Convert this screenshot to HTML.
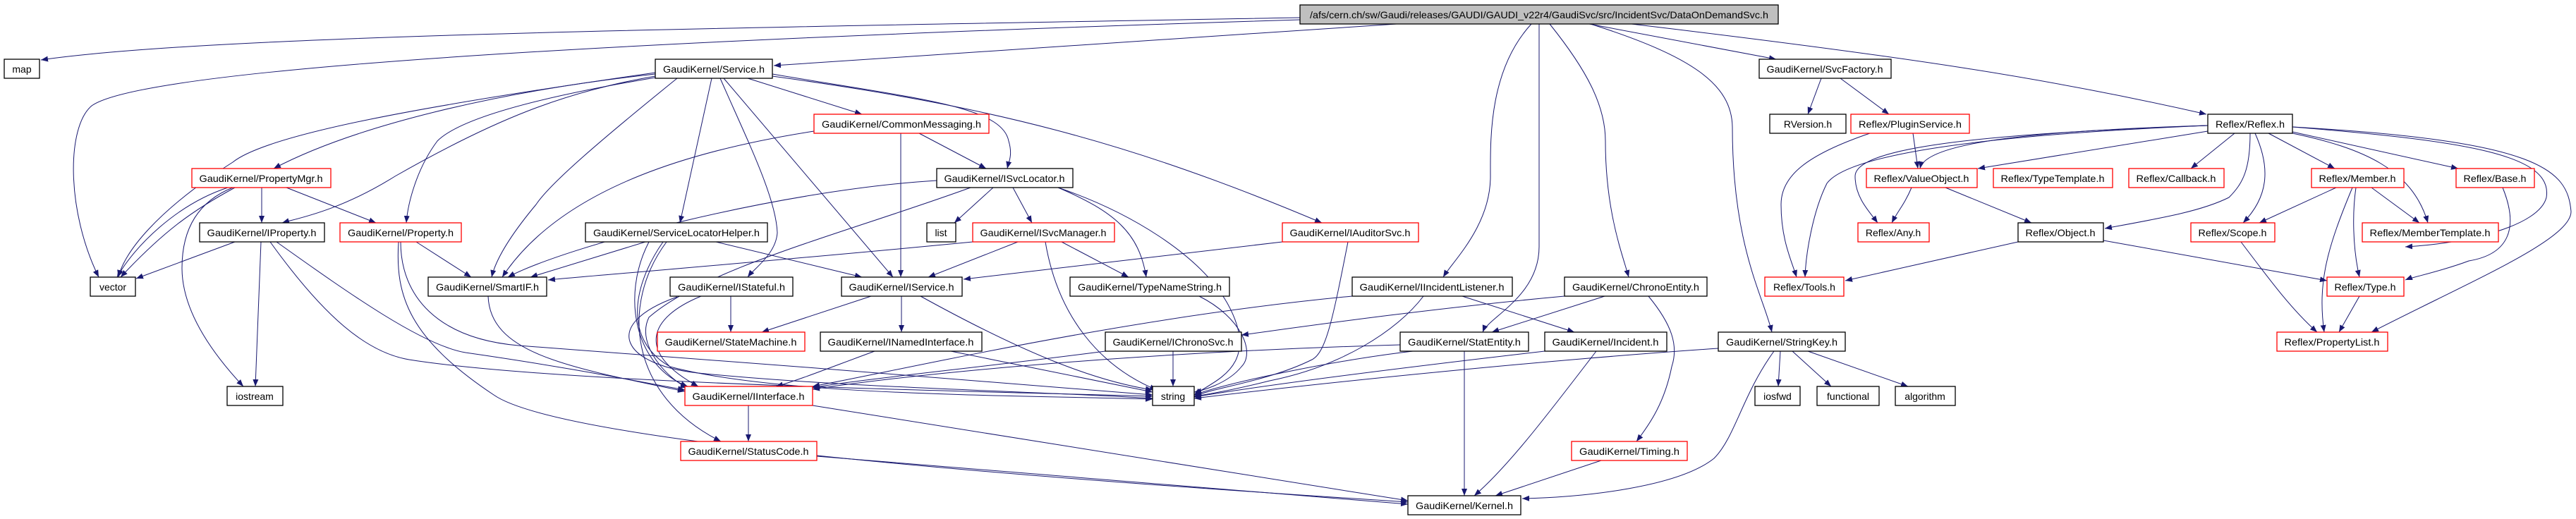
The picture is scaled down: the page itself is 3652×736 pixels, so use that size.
<!DOCTYPE html>
<html><head><meta charset="utf-8"><style>
html,body{margin:0;padding:0;background:#fff;}
svg{display:block;}
text{font-family:"Liberation Sans",sans-serif;font-size:14px;fill:#000;text-anchor:middle;}
.n{fill:#fff;stroke:#000;stroke-width:1.3;}
.r{fill:#fff;stroke:#ff0000;stroke-width:1.3;}
.t{fill:#bfbfbf;stroke:#000;stroke-width:1.3;}
path.e{fill:none;stroke:#191970;stroke-width:1;marker-end:url(#a);}
</style></head><body>
<svg width="3652" height="736" viewBox="0 0 3652 736" xmlns="http://www.w3.org/2000/svg">
<defs><marker id="a" markerUnits="userSpaceOnUse" markerWidth="11" markerHeight="8" refX="10" refY="4" orient="auto"><path d="M0,0 L10,4 L0,8 z" fill="#191970"/></marker></defs>
<g>
<path class="e" d="M1843,25 C1000,40 300,50 58,85"/>
<path class="e" d="M1843,28 C800,60 200,100 130,150 C94,180 94,300 140,393"/>
<path class="e" d="M1980,34 C1600,60 1300,80 1097,93"/>
<path class="e" d="M2171,34 C2110,100 2113,200 2113,250 C2113,320 2060,370 2046,393"/>
<path class="e" d="M2182,34 L2182,350 C2182,420 2110,450 2102,471"/>
<path class="e" d="M2197,34 C2250,100 2276,150 2276,200 C2276,300 2300,360 2309,393"/>
<path class="e" d="M2255,34 C2400,80 2455,120 2456,180 C2456,350 2500,420 2512,471"/>
<path class="e" d="M2253,34 L2518,84"/>
<path class="e" d="M2313,34 C2700,80 2900,110 3128,162"/>
<path class="e" d="M929,105 C700,130 500,180 388,239"/>
<path class="e" d="M929,108 C800,130 700,170 560,250 C480,300 420,310 400,316"/>
<path class="e" d="M929,110 C750,140 650,170 620,200 C590,240 578,290 576,316"/>
<path class="e" d="M929,103 C600,150 380,190 330,230 C220,300 175,360 168,393"/>
<path class="e" d="M960,111 C850,200 780,260 760,290 C710,350 700,380 697,393"/>
<path class="e" d="M1060,111 L1222,162"/>
<path class="e" d="M1095,105 C1300,140 1420,150 1430,200 C1436,220 1430,230 1428,239"/>
<path class="e" d="M1009,111 L964,316"/>
<path class="e" d="M1021,111 C1060,200 1100,280 1102,330 C1100,360 1070,380 1060,393"/>
<path class="e" d="M1026,111 L1266,393"/>
<path class="e" d="M1095,108 C1400,150 1600,200 1874,316"/>
<path class="e" d="M371,266 L371,316"/>
<path class="e" d="M406,266 L533,316"/>
<path class="e" d="M323,266 C250,290 190,350 166,393"/>
<path class="e" d="M333,266 C270,300 230,330 171,393"/>
<path class="e" d="M330,266 C270,290 258,340 258,380 C258,440 300,500 345,548"/>
<path class="e" d="M333,343 L193,395"/>
<path class="e" d="M370,343 L362,548"/>
<path class="e" d="M383,343 C460,450 520,500 580,510 C800,545 1400,555 1634,562"/>
<path class="e" d="M392,343 C500,420 600,490 660,500 C800,520 900,540 971,553"/>
<path class="e" d="M590,343 L668,393"/>
<path class="e" d="M568,343 C568,420 620,480 735,490 C1000,510 1400,540 1634,560"/>
<path class="e" d="M565,343 C560,420 580,480 700,560 C800,630 1500,680 1996,712"/>
<path class="e" d="M692,420 C695,500 800,520 971,555"/>
<path class="e" d="M1303,189 L1398,239"/>
<path class="e" d="M1277,189 L1277,393"/>
<path class="e" d="M1154,186 C1000,210 800,260 712,393"/>
<path class="e" d="M1408,266 L1353,316"/>
<path class="e" d="M1436,266 L1463,316"/>
<path class="e" d="M1500,266 C1580,300 1615,330 1625,393"/>
<path class="e" d="M1500,266 C1600,300 1700,360 1740,430 C1790,520 1720,540 1693,560"/>
<path class="e" d="M1328,256 C1100,270 800,350 720,393"/>
<path class="e" d="M1376,266 C1200,330 1000,380 920,450 C900,490 950,540 975,550"/>
<path class="e" d="M915,343 L752,393"/>
<path class="e" d="M1015,343 L1222,393"/>
<path class="e" d="M940,343 C900,400 880,480 950,520 C1100,560 1400,560 1634,566"/>
<path class="e" d="M920,343 C880,420 900,520 975,548"/>
<path class="e" d="M945,343 C880,430 890,560 1022,626"/>
<path class="e" d="M1443,343 L1316,393"/>
<path class="e" d="M1505,343 L1600,393"/>
<path class="e" d="M1482,343 C1500,450 1560,520 1640,553"/>
<path class="e" d="M1379,343 C1100,370 850,390 777,397"/>
<path class="e" d="M1818,343 L1366,396"/>
<path class="e" d="M1911,343 C1890,450 1880,500 1860,510 C1800,540 1720,550 1693,562"/>
<path class="e" d="M1036,420 L1036,471"/>
<path class="e" d="M994,420 C920,450 900,500 990,548"/>
<path class="e" d="M960,421 C850,460 880,520 1000,530 C1200,550 1500,556 1634,565"/>
<path class="e" d="M1235,420 L1080,471"/>
<path class="e" d="M1278,420 L1278,471"/>
<path class="e" d="M1305,420 C1450,500 1550,540 1634,553"/>
<path class="e" d="M1240,498 C1180,520 1130,540 1100,548"/>
<path class="e" d="M1348,498 L1634,556"/>
<path class="e" d="M1700,420 C1760,450 1780,500 1760,520 C1740,545 1700,555 1693,556"/>
<path class="e" d="M1663,498 L1663,548"/>
<path class="e" d="M1567,498 C1400,520 1200,540 1152,550"/>
<path class="e" d="M1061,575 L1061,626"/>
<path class="e" d="M1152,575 L1996,710"/>
<path class="e" d="M1158,647 L1996,715"/>
<path class="e" d="M1917,420 C1600,450 1300,520 1152,548"/>
<path class="e" d="M2018,420 C1980,470 1900,520 1800,540 C1760,550 1720,558 1693,562"/>
<path class="e" d="M2073,420 L2232,471"/>
<path class="e" d="M2218,420 C2000,440 1800,470 1760,475"/>
<path class="e" d="M2275,420 L2115,471"/>
<path class="e" d="M2337,420 C2370,460 2380,490 2370,520 C2360,570 2340,600 2320,626"/>
<path class="e" d="M2076,498 L2076,703"/>
<path class="e" d="M1985,489 C1600,500 1300,530 1152,552"/>
<path class="e" d="M2003,498 C1900,510 1750,540 1693,560"/>
<path class="e" d="M2263,498 C2200,580 2140,660 2090,703"/>
<path class="e" d="M2190,498 C2000,520 1800,545 1693,563"/>
<path class="e" d="M2436,494 C2200,510 1900,540 1693,565"/>
<path class="e" d="M2524,498 L2521,548"/>
<path class="e" d="M2541,498 L2596,548"/>
<path class="e" d="M2563,498 L2705,548"/>
<path class="e" d="M2515,498 C2470,560 2460,620 2430,650 C2380,690 2250,705 2158,707"/>
<path class="e" d="M2270,653 L2120,703"/>
<path class="e" d="M2582,111 L2563,162"/>
<path class="e" d="M2609,111 L2678,162"/>
<path class="e" d="M2651,189 C2560,220 2525,250 2525,290 C2525,340 2540,370 2547,393"/>
<path class="e" d="M2712,189 L2719,239"/>
<path class="e" d="M3130,178 C2900,185 2730,200 2722,239"/>
<path class="e" d="M3130,178 C2800,190 2630,210 2630,250 C2630,280 2650,300 2662,316"/>
<path class="e" d="M3130,178 C2800,192 2620,220 2590,260 C2570,300 2560,360 2559,393"/>
<path class="e" d="M3130,186 L2804,239"/>
<path class="e" d="M3168,189 L3106,239"/>
<path class="e" d="M3190,189 C3190,240 3180,260 3160,280 C3120,300 3060,310 2984,324"/>
<path class="e" d="M3197,189 C3220,240 3215,280 3180,316"/>
<path class="e" d="M3216,189 L3310,239"/>
<path class="e" d="M3250,189 C3350,210 3420,240 3442,316"/>
<path class="e" d="M3250,187 L3485,239"/>
<path class="e" d="M3250,180 C3500,200 3620,220 3610,280 C3600,320 3500,345 3410,350"/>
<path class="e" d="M3250,180 C3600,200 3640,240 3645,300 C3645,340 3500,400 3362,471"/>
<path class="e" d="M2710,266 C2700,290 2690,300 2682,316"/>
<path class="e" d="M2758,266 L2880,316"/>
<path class="e" d="M2861,343 L2616,398"/>
<path class="e" d="M2982,341 L3299,398"/>
<path class="e" d="M3312,266 L3203,316"/>
<path class="e" d="M3362,266 L3430,316"/>
<path class="e" d="M3340,266 C3335,300 3335,350 3345,393"/>
<path class="e" d="M3335,266 C3300,350 3285,400 3295,471"/>
<path class="e" d="M3548,266 C3570,320 3560,360 3500,370 C3460,385 3420,393 3410,397"/>
<path class="e" d="M3177,343 C3220,400 3250,440 3285,471"/>
<path class="e" d="M3345,420 L3316,471"/>
</g>
<g>
<rect class="t" x="1843" y="7" width="678" height="27"/><text x="2182" y="26" textLength="650" lengthAdjust="spacingAndGlyphs">/afs/cern.ch/sw/Gaudi/releases/GAUDI/GAUDI_v22r4/GaudiSvc/src/IncidentSvc/DataOnDemandSvc.h</text>
<rect class="n" x="6" y="84" width="50" height="27"/><text x="31" y="103">map</text>
<rect class="n" x="128" y="393" width="64" height="27"/><text x="160" y="412">vector</text>
<rect class="n" x="929" y="84" width="166" height="27"/><text x="1012" y="103" textLength="144" lengthAdjust="spacingAndGlyphs">GaudiKernel/Service.h</text>
<rect class="r" x="272" y="239" width="197" height="27"/><text x="370" y="258" textLength="175" lengthAdjust="spacingAndGlyphs">GaudiKernel/PropertyMgr.h</text>
<rect class="n" x="283" y="316" width="177" height="27"/><text x="371" y="335" textLength="155" lengthAdjust="spacingAndGlyphs">GaudiKernel/IProperty.h</text>
<rect class="r" x="482" y="316" width="172" height="27"/><text x="568" y="335" textLength="150" lengthAdjust="spacingAndGlyphs">GaudiKernel/Property.h</text>
<rect class="n" x="607" y="393" width="168" height="27"/><text x="691" y="412" textLength="146" lengthAdjust="spacingAndGlyphs">GaudiKernel/SmartIF.h</text>
<rect class="n" x="322" y="548" width="79" height="27"/><text x="361" y="567">iostream</text>
<rect class="r" x="1154" y="162" width="248" height="27"/><text x="1278" y="181" textLength="226" lengthAdjust="spacingAndGlyphs">GaudiKernel/CommonMessaging.h</text>
<rect class="n" x="1328" y="239" width="193" height="27"/><text x="1424" y="258" textLength="171" lengthAdjust="spacingAndGlyphs">GaudiKernel/ISvcLocator.h</text>
<rect class="n" x="830" y="316" width="258" height="27"/><text x="959" y="335" textLength="236" lengthAdjust="spacingAndGlyphs">GaudiKernel/ServiceLocatorHelper.h</text>
<rect class="n" x="1314" y="316" width="41" height="27"/><text x="1334" y="335">list</text>
<rect class="r" x="1379" y="316" width="201" height="27"/><text x="1479" y="335" textLength="179" lengthAdjust="spacingAndGlyphs">GaudiKernel/ISvcManager.h</text>
<rect class="r" x="1818" y="316" width="193" height="27"/><text x="1914" y="335" textLength="171" lengthAdjust="spacingAndGlyphs">GaudiKernel/IAuditorSvc.h</text>
<rect class="n" x="950" y="393" width="174" height="27"/><text x="1037" y="412" textLength="152" lengthAdjust="spacingAndGlyphs">GaudiKernel/IStateful.h</text>
<rect class="n" x="1193" y="393" width="171" height="27"/><text x="1278" y="412" textLength="149" lengthAdjust="spacingAndGlyphs">GaudiKernel/IService.h</text>
<rect class="n" x="1517" y="393" width="226" height="27"/><text x="1630" y="412" textLength="204" lengthAdjust="spacingAndGlyphs">GaudiKernel/TypeNameString.h</text>
<rect class="r" x="932" y="471" width="209" height="27"/><text x="1036" y="490" textLength="187" lengthAdjust="spacingAndGlyphs">GaudiKernel/StateMachine.h</text>
<rect class="n" x="1163" y="471" width="229" height="27"/><text x="1277" y="490" textLength="207" lengthAdjust="spacingAndGlyphs">GaudiKernel/INamedInterface.h</text>
<rect class="n" x="1567" y="471" width="193" height="27"/><text x="1663" y="490" textLength="171" lengthAdjust="spacingAndGlyphs">GaudiKernel/IChronoSvc.h</text>
<rect class="r" x="971" y="548" width="181" height="27"/><text x="1061" y="567" textLength="159" lengthAdjust="spacingAndGlyphs">GaudiKernel/IInterface.h</text>
<rect class="n" x="1634" y="548" width="59" height="27"/><text x="1663" y="567">string</text>
<rect class="r" x="965" y="626" width="193" height="27"/><text x="1061" y="645" textLength="171" lengthAdjust="spacingAndGlyphs">GaudiKernel/StatusCode.h</text>
<rect class="n" x="2494" y="84" width="187" height="27"/><text x="2587" y="103" textLength="165" lengthAdjust="spacingAndGlyphs">GaudiKernel/SvcFactory.h</text>
<rect class="n" x="2509" y="162" width="108" height="27"/><text x="2563" y="181">RVersion.h</text>
<rect class="r" x="2624" y="162" width="168" height="27"/><text x="2708" y="181" textLength="146" lengthAdjust="spacingAndGlyphs">Reflex/PluginService.h</text>
<rect class="r" x="2646" y="239" width="157" height="27"/><text x="2724" y="258" textLength="135" lengthAdjust="spacingAndGlyphs">Reflex/ValueObject.h</text>
<rect class="r" x="2634" y="316" width="101" height="27"/><text x="2684" y="335">Reflex/Any.h</text>
<rect class="r" x="2502" y="393" width="112" height="27"/><text x="2558" y="412">Reflex/Tools.h</text>
<rect class="n" x="1917" y="393" width="227" height="27"/><text x="2030" y="412" textLength="205" lengthAdjust="spacingAndGlyphs">GaudiKernel/IIncidentListener.h</text>
<rect class="n" x="2218" y="393" width="202" height="27"/><text x="2319" y="412" textLength="180" lengthAdjust="spacingAndGlyphs">GaudiKernel/ChronoEntity.h</text>
<rect class="n" x="1985" y="471" width="182" height="27"/><text x="2076" y="490" textLength="160" lengthAdjust="spacingAndGlyphs">GaudiKernel/StatEntity.h</text>
<rect class="n" x="2190" y="471" width="173" height="27"/><text x="2276" y="490" textLength="151" lengthAdjust="spacingAndGlyphs">GaudiKernel/Incident.h</text>
<rect class="n" x="2436" y="471" width="180" height="27"/><text x="2526" y="490" textLength="158" lengthAdjust="spacingAndGlyphs">GaudiKernel/StringKey.h</text>
<rect class="n" x="2488" y="548" width="64" height="27"/><text x="2520" y="567">iosfwd</text>
<rect class="n" x="2576" y="548" width="88" height="27"/><text x="2620" y="567">functional</text>
<rect class="n" x="2687" y="548" width="85" height="27"/><text x="2729" y="567">algorithm</text>
<rect class="r" x="2228" y="626" width="164" height="27"/><text x="2310" y="645" textLength="142" lengthAdjust="spacingAndGlyphs">GaudiKernel/Timing.h</text>
<rect class="n" x="1996" y="703" width="160" height="27"/><text x="2076" y="722" textLength="138" lengthAdjust="spacingAndGlyphs">GaudiKernel/Kernel.h</text>
<rect class="n" x="3130" y="162" width="120" height="27"/><text x="3190" y="181" textLength="98" lengthAdjust="spacingAndGlyphs">Reflex/Reflex.h</text>
<rect class="r" x="2826" y="239" width="169" height="27"/><text x="2910" y="258" textLength="147" lengthAdjust="spacingAndGlyphs">Reflex/TypeTemplate.h</text>
<rect class="r" x="3018" y="239" width="135" height="27"/><text x="3085" y="258" textLength="113" lengthAdjust="spacingAndGlyphs">Reflex/Callback.h</text>
<rect class="r" x="3277" y="239" width="131" height="27"/><text x="3342" y="258" textLength="109" lengthAdjust="spacingAndGlyphs">Reflex/Member.h</text>
<rect class="r" x="3482" y="239" width="111" height="27"/><text x="3537" y="258" textLength="89" lengthAdjust="spacingAndGlyphs">Reflex/Base.h</text>
<rect class="n" x="2861" y="316" width="121" height="27"/><text x="2921" y="335" textLength="99" lengthAdjust="spacingAndGlyphs">Reflex/Object.h</text>
<rect class="r" x="3106" y="316" width="119" height="27"/><text x="3165" y="335" textLength="97" lengthAdjust="spacingAndGlyphs">Reflex/Scope.h</text>
<rect class="r" x="3349" y="316" width="193" height="27"/><text x="3445" y="335" textLength="171" lengthAdjust="spacingAndGlyphs">Reflex/MemberTemplate.h</text>
<rect class="r" x="3299" y="393" width="109" height="27"/><text x="3353" y="412" textLength="87" lengthAdjust="spacingAndGlyphs">Reflex/Type.h</text>
<rect class="r" x="3228" y="471" width="157" height="27"/><text x="3306" y="490" textLength="135" lengthAdjust="spacingAndGlyphs">Reflex/PropertyList.h</text>
</g>
</svg>
</body></html>
